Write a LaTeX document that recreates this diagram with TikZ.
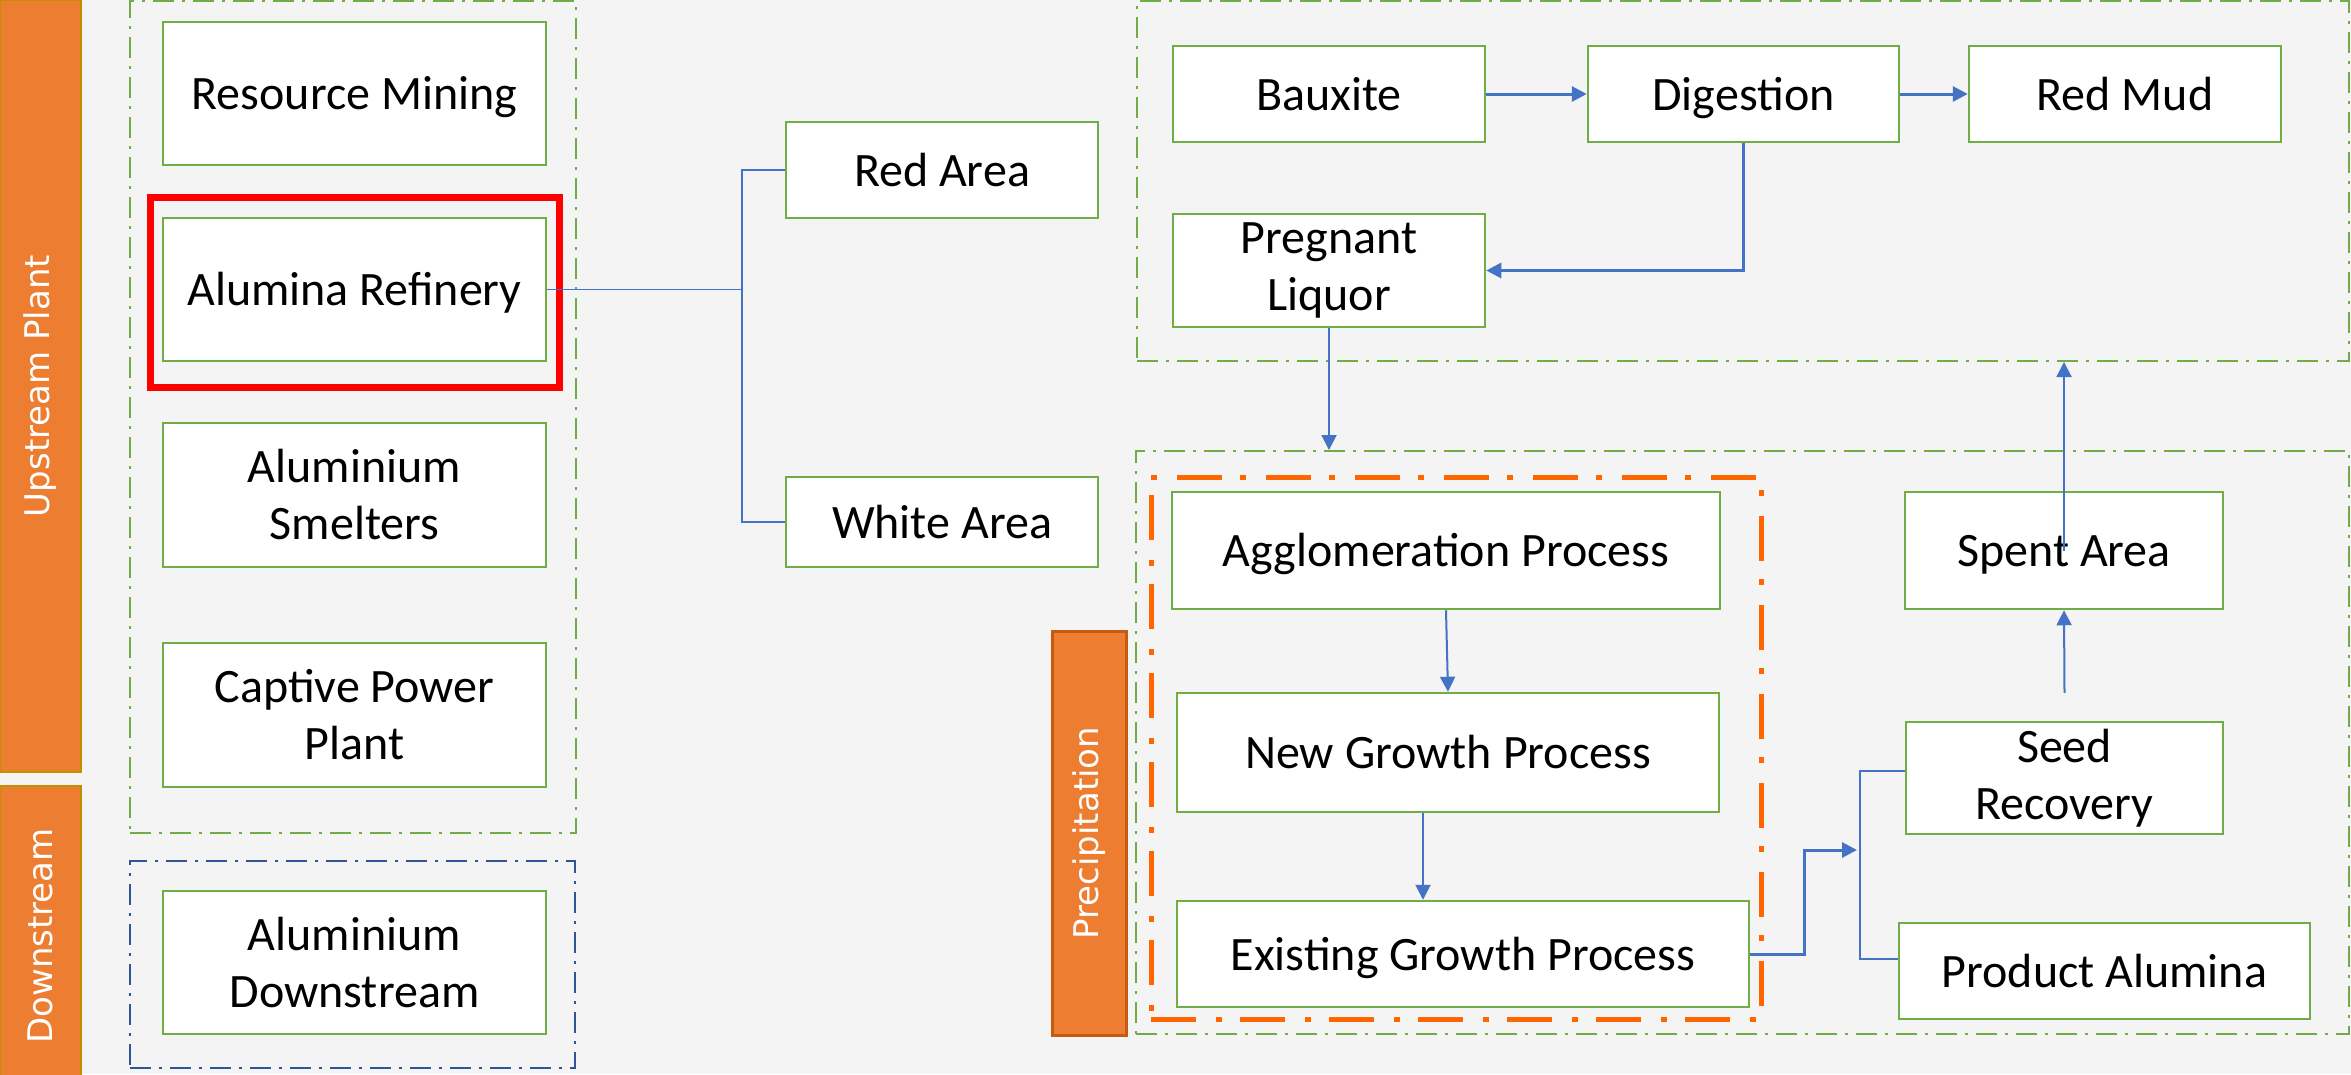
\documentclass[tikz,border=0pt]{standalone}
\usepackage{fontspec}
\setmainfont{Carlito}
\newfontfamily\barfont{DejaVu Sans}
\usetikzlibrary{arrows.meta,fit}
\definecolor{bggray}{HTML}{F4F4F4}
\definecolor{boxgreen}{HTML}{70AD47}
\definecolor{linkblue}{HTML}{4472C4}
\definecolor{barorange}{HTML}{ED7D31}
\definecolor{bargold}{HTML}{BF9000}
\definecolor{barbrown}{HTML}{C55A11}
\definecolor{precorange}{HTML}{FF6600}
\definecolor{downblue}{HTML}{2F5597}
\tikzset{
  box/.style={draw=boxgreen, line width=2.5pt, fill=white, align=center, inner sep=0pt,
    font=\fontsize{48}{57}\selectfont},
  onebox/.style={box, text height=32pt, text depth=0pt},
  gframe/.style={draw=boxgreen, line width=2pt, dash pattern=on 21pt off 8pt on 3pt off 8pt, inner sep=0pt},
  bframe/.style={gframe, draw=downblue},
  pframe/.style={draw=precorange, line width=5pt, dash pattern=on 45pt off 20pt on 6pt off 18pt, inner sep=0pt},
  bar/.style={fill=barorange, draw=bargold, line width=2pt, rotate=90, text=white, inner sep=0pt,
    font=\barfont\fontsize{34}{40}\selectfont},
  redmark/.style={draw=red, line width=7pt, inner sep=0pt},
  link/.style={draw=linkblue, line width=1.5pt},
  flow/.style={draw=linkblue, line width=2pt, -{Triangle[length=15pt,width=15pt]}},
  bigflow/.style={flow, line width=3pt}
}
\begin{document}
\begin{tikzpicture}[x=1pt, y=-1pt]
\useasboundingbox (0,0) rectangle (2351,1074);
\fill[bggray] (0,0) rectangle (2351,1074);
% group frames
\node[gframe, fit={(130,1) (576,833)}] (upFrame) {};
\node[bframe, fit={(130,861) (575,1068)}] (downFrame) {};
\node[gframe, fit={(1137,1) (2349,361)}] (topFrame) {};
\node[gframe, fit={(1136,451) (2349,1034)}] (botFrame) {};
\node[pframe, fit={(1151,477) (1761,1019)}] (precFrame) {};
% side bars
\node[bar, minimum width=772pt, minimum height=81pt] (upBar) at (40.5,386) {Upstream Plant};
\node[bar, minimum width=300pt, minimum height=81pt] (downBar) at (40.5,936) {Downstream};
\node[bar, draw=barbrown, line width=3pt, minimum width=404pt, minimum height=74pt] (precBar) at (1089,833) {Precipitation};
% plant units
\node[onebox, minimum width=383pt, minimum height=143pt] (rm) at (354.5,93.5) {Resource Mining};
\node[onebox, minimum width=383pt, minimum height=143pt] (ar) at (354.5,289.5) {Alumina Refinery};
\node[box, minimum width=383pt, minimum height=144pt] (as) at (354.5,495) {Aluminium\\Smelters};
\node[box, minimum width=383pt, minimum height=144pt] (cp) at (354.5,715) {Captive Power\\Plant};
\node[box, minimum width=383pt, minimum height=143pt] (ad) at (354.5,962.5) {Aluminium\\Downstream};
\node[redmark, fit={(150.5,197.5) (559.5,387.5)}] (arMark) {};
% refinery areas
\node[onebox, minimum width=312pt, minimum height=96pt] (red) at (942,170) {Red Area};
\node[onebox, minimum width=312pt, minimum height=90pt] (white) at (942,522) {White Area};
\coordinate (arSplit) at (742,289.5);
% red area
\node[onebox, minimum width=312pt, minimum height=96pt] (baux) at (1329,94) {Bauxite};
\node[onebox, minimum width=311pt, minimum height=96pt] (dig) at (1743.5,94) {Digestion};
\node[onebox, minimum width=312pt, minimum height=96pt] (mud) at (2125,94) {Red Mud};
\node[box, minimum width=312pt, minimum height=113pt] (preg) at (1329,270.5) {Pregnant\\Liquor};
% white area
\node[onebox, minimum width=548pt, minimum height=117pt] (agg) at (1446,550.5) {Agglomeration Process};
\node[onebox, minimum width=542pt, minimum height=119pt] (ng) at (1448,752.5) {New Growth Process};
\node[onebox, minimum width=572pt, minimum height=106pt] (eg) at (1463,954) {Existing Growth Process};
\node[onebox, minimum width=318pt, minimum height=117pt] (spent) at (2064,550.5) {Spent Area};
\node[box, minimum width=317pt, minimum height=112pt] (seed) at (2064.5,778) {Seed\\Recovery};
\node[onebox, minimum width=411pt, minimum height=96pt] (prod) at (2104.5,971) {Product Alumina};
\coordinate (prodSplit) at (1860,850);
% connectors
\draw[link] (ar.east) -- (arSplit);
\draw[link] (red.west) -| (arSplit) |- (white.west);
\draw[bigflow] (baux) -- (dig);
\draw[bigflow] (dig) -- (mud);
\draw[bigflow] (dig.south) |- (preg.east);
\draw[flow] (preg.south) -- (preg.south |- botFrame.north);
\draw[flow] (agg.south) -- (ng.north);
\draw[flow] ([xshift=-25pt]ng.south) -- ([xshift=-25pt]ng.south |- eg.north);
\draw[bigflow] (eg.east) -- ++(54,0) |- ([xshift=-3pt]prodSplit);
\draw[link] ([yshift=7pt]seed.west) -| (prodSplit) |- ([yshift=12pt]prod.west);
\draw[flow] ([yshift=28pt]seed.north) -- (spent.south);
\draw[flow] (spent.center) -- (spent.center |- topFrame.south);
\end{tikzpicture}
\end{document}
